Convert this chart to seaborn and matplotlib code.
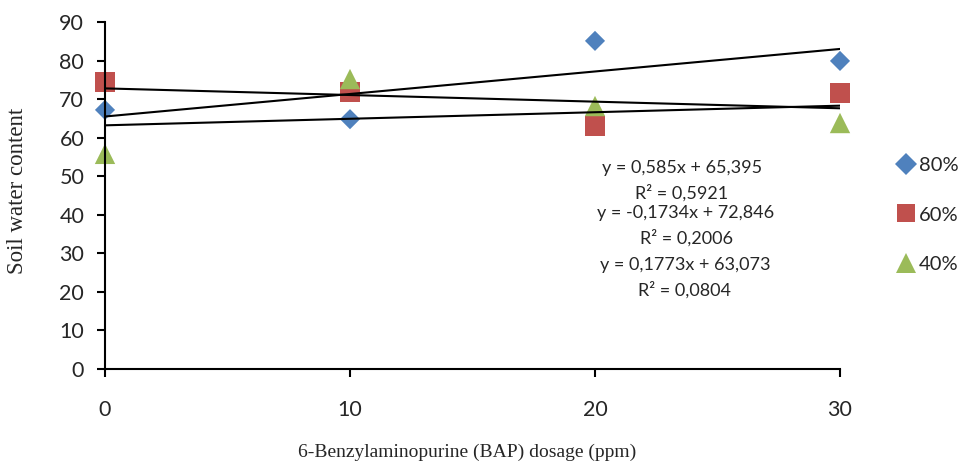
import matplotlib
matplotlib.use("Agg")
import matplotlib.pyplot as plt
import seaborn as sns
import pandas as pd
from matplotlib.lines import Line2D

# Data
dosage = [0, 10, 20, 30]
series_names = ["80%", "60%", "40%"]
vals_80 = [67.2, 64.8, 85.1, 79.9]
vals_60 = [74.4, 71.8, 63.0, 71.6]
vals_40 = [55.8, 75.2, 68.2, 63.8]
equation_lines = [
    "y = 0,585x + 65,395", "R² = 0,5921",
    "y = -0,1734x + 72,846", "R² = 0,2006",
    "y = 0,1773x + 63,073", "R² = 0,0804",
]
x_ticks = [0, 10, 20, 30]
y_ticks = list(range(0, 91, 10))

colors = {"80%": "#4F81BD", "60%": "#C0504D", "40%": "#9BBB59"}
markers = {"80%": "D", "60%": "s", "40%": "^"}
msizes = {"80%": 105, "60%": 215, "40%": 215}
leg_msizes = {"80%": 11.5, "60%": 13.5, "40%": 14.5}

df = pd.DataFrame({
    "dosage": dosage * 3,
    "value": vals_80 + vals_60 + vals_40,
    "series": [s for s in series_names for _ in dosage],
})

sns.set_style("white")
plt.rcParams["font.family"] = ["Lato", "DejaVu Sans"]

fig = plt.figure(figsize=(9.66, 4.63), dpi=100)
ax = fig.add_axes([105 / 966, 1 - 369 / 463, (840 - 105) / 966, (369 - 22) / 463])

for s in series_names:
    sub = df[df.series == s]
    sns.regplot(data=sub, x="dosage", y="value", ax=ax, scatter=False, ci=None,
                color="black", line_kws={"linewidth": 1.5, "zorder": 3})

for s in series_names:
    sub = df[df.series == s]
    sns.scatterplot(data=sub, x="dosage", y="value", ax=ax, marker=markers[s],
                    s=msizes[s], color=colors[s], edgecolor="none", linewidth=0,
                    clip_on=False, zorder=2, legend=False)

ax.set_xlim(0, 30)
ax.set_ylim(0, 90)
ax.set_xticks(x_ticks)
ax.set_yticks(y_ticks)
ax.tick_params(axis="both", which="major", labelsize=15.5, length=6, width=1.5,
               color="black", direction="out", bottom=True, left=True)
ax.tick_params(axis="x", pad=16)
ax.tick_params(axis="y", pad=9)
for sp in ["top", "right"]:
    ax.spines[sp].set_visible(False)
for sp in ["left", "bottom"]:
    ax.spines[sp].set_color("black")
    ax.spines[sp].set_linewidth(1.5)

ax.set_xlabel("")
ax.set_ylabel("")
fig.text(467 / 966, 1 - 452 / 463, "6-Benzylaminopurine (BAP) dosage (ppm)",
         family="Liberation Serif", fontsize=14, ha="center", va="center")
fig.text(18 / 966, 1 - 191 / 463, "Soil water content",
         family="Liberation Serif", fontsize=16.5, ha="center", va="center", rotation=90)

eq_y = [168, 193, 213, 238, 265, 290]
eq_x = [682, 682, 686, 686, 685, 685]
for t, yy, xx in zip(equation_lines, eq_y, eq_x):
    fig.text(xx / 966, 1 - yy / 463, t, fontsize=13, ha="center", va="center")

handles = [Line2D([], [], linestyle="none", marker=markers[s], color=colors[s],
                  markersize=leg_msizes[s], markeredgewidth=0) for s in series_names]
fig.legend(handles, series_names, loc="center left",
           bbox_to_anchor=(886 / 966, 1 - 215 / 463), frameon=False, fontsize=14.5,
           handletextpad=0.15, labelspacing=1.6, handlelength=1.0, borderpad=0)

fig.savefig("out.png", dpi=100)
